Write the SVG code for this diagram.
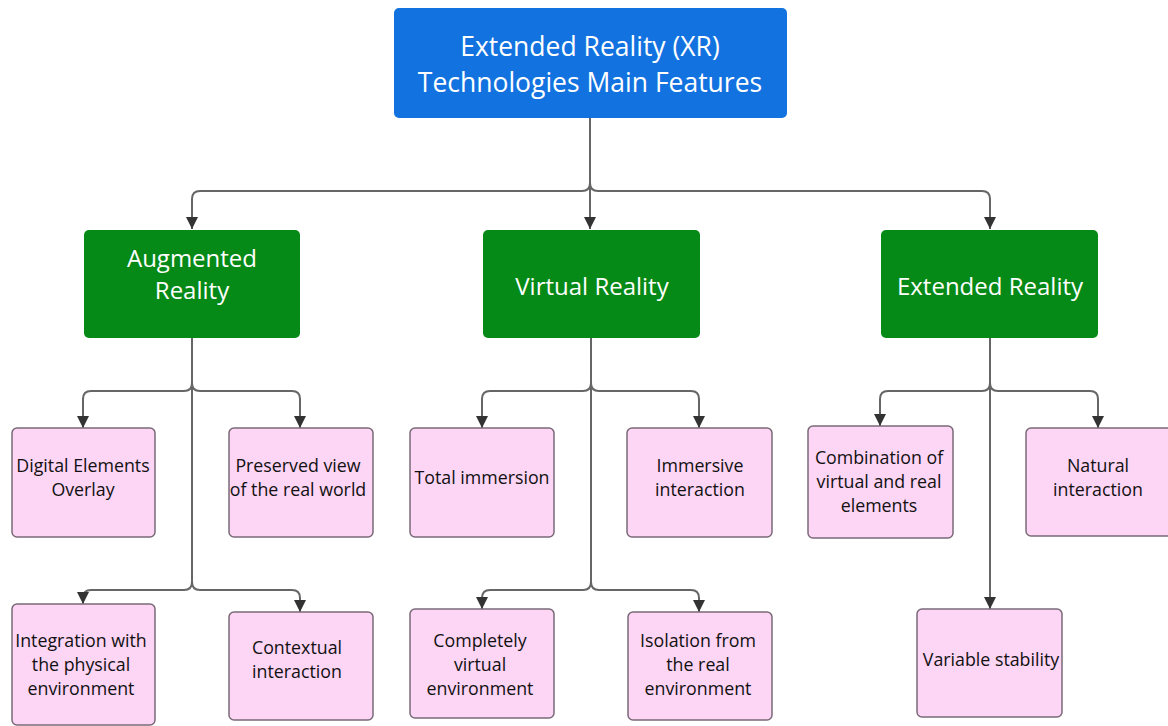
<svg xmlns="http://www.w3.org/2000/svg" width="1168" height="726" viewBox="0 0 1168 726">
<defs>
<marker id="arr" markerUnits="userSpaceOnUse" markerWidth="12" markerHeight="14" viewBox="0 0 12 14" refX="12" refY="6" orient="auto">
<path d="M0,0 L12,6 L0,12 Z" fill="#333"/>
</marker>
<style>
.root rect{fill:#1272E0;}
.cat rect{fill:#058A17;}
.leaf rect{fill:#FDD5F5;stroke:#7a6a78;stroke-width:1.5;}
text{font-family:"Open Sans","Noto Sans",sans-serif;text-anchor:middle;}
.root text{fill:#fff;font-size:26.5px;}
.cat text{fill:#fff;font-size:24px;}
.leaf text{fill:#111;font-size:17.8px;}
.conn path{fill:none;stroke:#666;stroke-width:2;}
.conn path.a{marker-end:url(#arr);}
</style>
</defs>
<rect width="1168" height="726" fill="#fff"/>
<g class="conn">
<path class="a" d="M590,118 V229"/>
<path class="a" d="M590,183 Q590,191 582,191 H200 Q192,191 192,199 V229"/>
<path class="a" d="M590,183 Q590,191 598,191 H982 Q990,191 990,199 V229"/>
<path d="M192,338 V582"/>
<path class="a" d="M192,383 Q192,391 184,391 H91 Q83,391 83,399 V428"/>
<path class="a" d="M192,383 Q192,391 200,391 H292 Q300,391 300,399 V428"/>
<path class="a" d="M192,582 Q192,590 184,590 H91 Q83,590 83,598 V604"/>
<path class="a" d="M192,582 Q192,590 200,590 H292 Q300,590 300,598 V612"/>
<path d="M591,338 V582"/>
<path class="a" d="M591,383 Q591,391 583,391 H490 Q482,391 482,399 V428"/>
<path class="a" d="M591,383 Q591,391 599,391 H691 Q699,391 699,399 V428"/>
<path class="a" d="M591,582 Q591,590 583,590 H490 Q482,590 482,598 V609"/>
<path class="a" d="M591,582 Q591,590 599,590 H691 Q699,590 699,598 V612"/>
<path class="a" d="M990,338 V609"/>
<path class="a" d="M990,383 Q990,391 982,391 H888 Q880,391 880,399 V426"/>
<path class="a" d="M990,383 Q990,391 998,391 H1090 Q1098,391 1098,399 V428"/>
</g>
<g id="root" class="root">
<rect x="394" y="8" width="393" height="110" rx="5"/>
<text x="590" y="56">Extended Reality (XR)</text>
<text x="590" y="92">Technologies Main Features</text>
</g>
<g id="ar" class="cat">
<rect x="84" y="230" width="216" height="108" rx="5"/>
<text x="192" y="267">Augmented</text>
<text x="192" y="299">Reality</text>
</g>
<g id="vr" class="cat">
<rect x="483" y="230" width="217" height="108" rx="5"/>
<text x="592" y="295">Virtual Reality</text>
</g>
<g id="xr" class="cat">
<rect x="881" y="230" width="217" height="108" rx="5"/>
<text x="990" y="295">Extended Reality</text>
</g>
<g id="ar1" class="leaf">
<rect x="12" y="428" width="143" height="109" rx="5"/>
<text x="83" y="472">Digital Elements</text>
<text x="83" y="496">Overlay</text>
</g>
<g id="ar2" class="leaf">
<rect x="229" y="428" width="144" height="109" rx="5"/>
<text x="298" y="472">Preserved view</text>
<text x="298" y="496">of the real world</text>
</g>
<g id="ar3" class="leaf">
<rect x="12" y="604" width="143" height="121" rx="5"/>
<text x="81" y="647">Integration with</text>
<text x="81" y="671">the physical</text>
<text x="81" y="695">environment</text>
</g>
<g id="ar4" class="leaf">
<rect x="229" y="612" width="144" height="108" rx="5"/>
<text x="297" y="654">Contextual</text>
<text x="297" y="678">interaction</text>
</g>
<g id="vr1" class="leaf">
<rect x="410" y="428" width="144" height="109" rx="5"/>
<text x="482" y="484">Total immersion</text>
</g>
<g id="vr2" class="leaf">
<rect x="627" y="428" width="145" height="109" rx="5"/>
<text x="700" y="472">Immersive</text>
<text x="700" y="496">interaction</text>
</g>
<g id="vr3" class="leaf">
<rect x="410" y="609" width="144" height="109" rx="5"/>
<text x="480" y="647">Completely</text>
<text x="480" y="671">virtual</text>
<text x="480" y="695">environment</text>
</g>
<g id="vr4" class="leaf">
<rect x="628" y="612" width="144" height="108" rx="5"/>
<text x="698" y="647">Isolation from</text>
<text x="698" y="671">the real</text>
<text x="698" y="695">environment</text>
</g>
<g id="xr1" class="leaf">
<rect x="808" y="426" width="145" height="112" rx="5"/>
<text x="879" y="464">Combination of</text>
<text x="879" y="488">virtual and real</text>
<text x="879" y="512">elements</text>
</g>
<g id="xr2" class="leaf">
<rect x="1026" y="428" width="150" height="108" rx="5"/>
<text x="1098" y="472">Natural</text>
<text x="1098" y="496">interaction</text>
</g>
<g id="xr3" class="leaf">
<rect x="917" y="609" width="145" height="108" rx="5"/>
<text x="991" y="666">Variable stability</text>
</g>
</svg>
